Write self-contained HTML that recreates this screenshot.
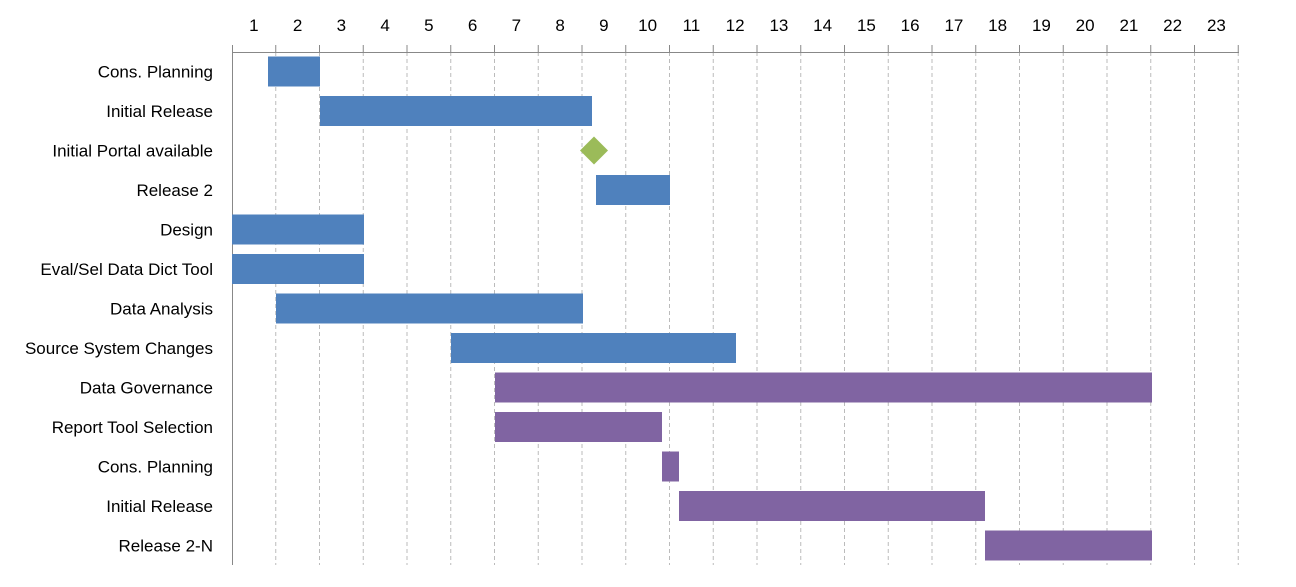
<!DOCTYPE html>
<html><head><style>body{margin:0;background:#fff}svg{display:block}text{font-family:"Liberation Sans",sans-serif;font-size:17px;fill:#000}</style></head>
<body>
<svg width="1296" height="587" xmlns="http://www.w3.org/2000/svg">
<path d="M275.75 52V565M319.5 52V565M363.25 52V565M407 52V565M450.75 52V565M494.5 52V565M538.25 52V565M582 52V565M625.75 52V565M669.5 52V565M713.25 52V565M757 52V565M800.75 52V565M844.5 52V565M888.25 52V565M932 52V565M975.75 52V565M1019.5 52V565M1063.25 52V565M1107 52V565M1150.75 52V565M1194.5 52V565M1238.25 52V565" stroke="#bbb" stroke-dasharray="4,3" fill="none"/>
<path d="M275.75 45V52M319.5 45V52M363.25 45V52M407 45V52M450.75 45V52M494.5 45V52M538.25 45V52M582 45V52M625.75 45V52M669.5 45V52M713.25 45V52M757 45V52M800.75 45V52M844.5 45V52M888.25 45V52M932 45V52M975.75 45V52M1019.5 45V52M1063.25 45V52M1107 45V52M1150.75 45V52M1194.5 45V52M1238.25 45V52M232.5 45V565M232 52.5H1239" stroke="#888" fill="none"/>
<g text-anchor="middle">
<text x="253.9" y="31">1</text><text x="297.6" y="31">2</text><text x="341.4" y="31">3</text><text x="385.1" y="31">4</text><text x="428.9" y="31">5</text><text x="472.6" y="31">6</text><text x="516.4" y="31">7</text><text x="560.1" y="31">8</text><text x="603.9" y="31">9</text><text x="647.6" y="31">10</text><text x="691.4" y="31">11</text><text x="735.1" y="31">12</text><text x="778.9" y="31">13</text><text x="822.6" y="31">14</text><text x="866.4" y="31">15</text><text x="910.1" y="31">16</text><text x="953.9" y="31">17</text><text x="997.6" y="31">18</text><text x="1041.4" y="31">19</text><text x="1085.1" y="31">20</text><text x="1128.9" y="31">21</text><text x="1172.6" y="31">22</text><text x="1216.4" y="31">23</text>
</g>
<g text-anchor="end">
<text x="213" y="77.5">Cons. Planning</text>
<text x="213" y="117">Initial Release</text>
<text x="213" y="156.5">Initial Portal available</text>
<text x="213" y="196">Release 2</text>
<text x="213" y="235.5">Design</text>
<text x="213" y="275">Eval/Sel Data Dict Tool</text>
<text x="213" y="314.5">Data Analysis</text>
<text x="213" y="354">Source System Changes</text>
<text x="213" y="393.5">Data Governance</text>
<text x="213" y="433">Report Tool Selection</text>
<text x="213" y="472.5">Cons. Planning</text>
<text x="213" y="512">Initial Release</text>
<text x="213" y="551.5">Release 2-N</text>
</g>
<g fill="#4F81BD">
<rect x="268" y="56.5" width="52" height="30"/>
<rect x="320" y="96" width="272" height="30"/>
<rect x="596" y="175" width="74" height="30"/>
<rect x="232" y="214.5" width="132" height="30"/>
<rect x="232" y="254" width="132" height="30"/>
<rect x="276" y="293.5" width="307" height="30"/>
<rect x="451" y="333" width="285" height="30"/>
</g>
<polygon points="580,150.5 594,136.5 608,150.5 594,164.5" fill="#9BBB59"/>
<g fill="#8064A2">
<rect x="495" y="372.5" width="657" height="30"/>
<rect x="495" y="412" width="167" height="30"/>
<rect x="662" y="451.5" width="17" height="30"/>
<rect x="679" y="491" width="306" height="30"/>
<rect x="985" y="530.5" width="167" height="30"/>
</g>
</svg>
</body></html>
